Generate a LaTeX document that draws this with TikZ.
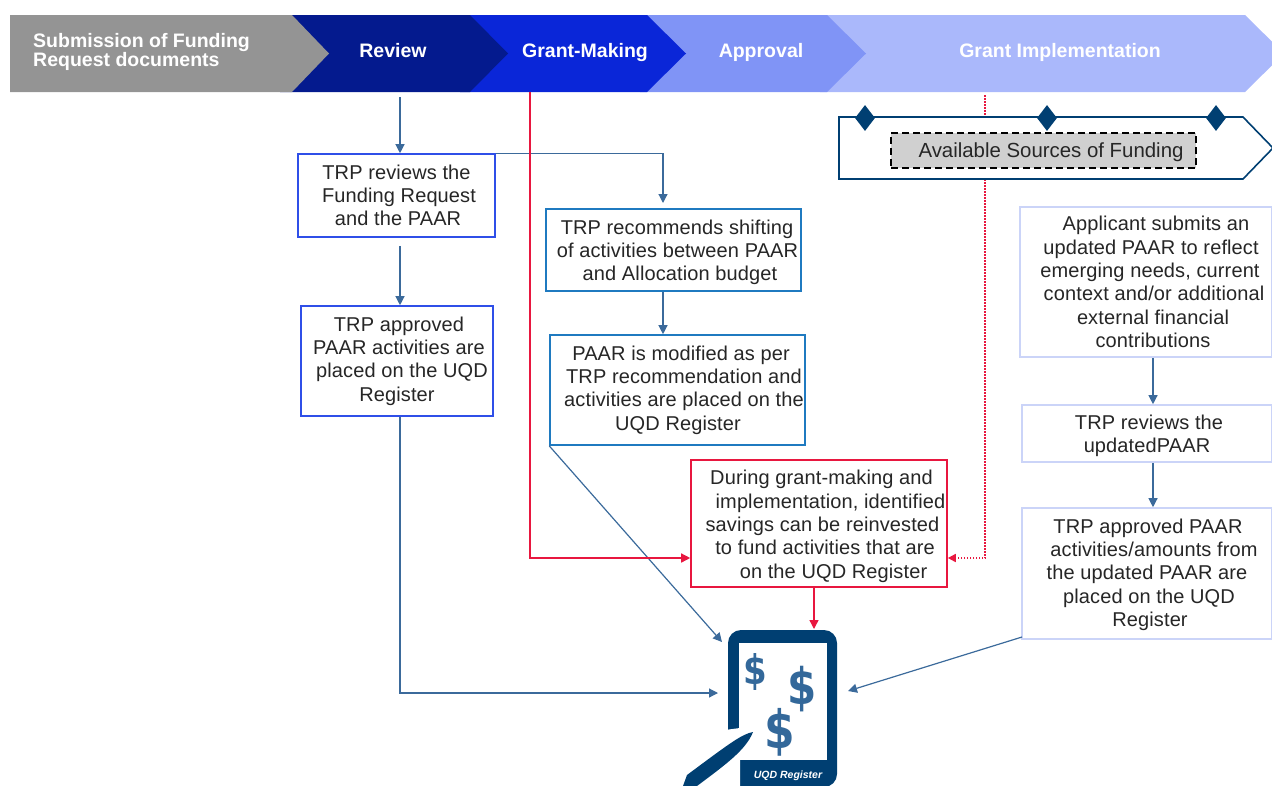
\documentclass[tikz,border=0pt]{standalone}
\usepackage{fontspec}
\setmainfont{Liberation Sans}
\newfontfamily\dollarfont{DejaVu Sans}
\newfontfamily\bodyfont[LetterSpace=0.6]{Liberation Sans}
\newcommand\lowr[1]{\rule{0pt}{\dimexpr15pt+#1pt\relax}}
\newcommand\sh[1]{\hspace*{#1pt}}
\usetikzlibrary{arrows.meta,shapes.geometric}
\definecolor{cgray}{HTML}{949494}
\definecolor{creview}{HTML}{041A8E}
\definecolor{cgrant}{HTML}{0A26D8}
\definecolor{capprov}{HTML}{8094F6}
\definecolor{cimpl}{HTML}{AAB8FB}
\definecolor{cnavy}{HTML}{003F72}
\definecolor{csteel}{HTML}{3B6A9B}
\definecolor{cdollar}{HTML}{33689A}
\definecolor{cblue}{HTML}{2F4FE8}
\definecolor{csky}{HTML}{1F7AC0}
\definecolor{cred}{HTML}{E8173F}
\definecolor{cpale}{HTML}{CBD4F8}
\definecolor{cdash}{HTML}{D0D0D0}
\tikzset{
 x=1pt,y=-1pt,
 headtext/.style={text=white,font=\bfseries\fontsize{19.5}{19}\selectfont,align=center,inner sep=0,anchor=base},
 flowbox/.style={draw,fill=white,line width=1.6pt,inner sep=0,align=center,font=\bodyfont\fontsize{20}{23.3}\selectfont,text=black!85},
 bluebox/.style={flowbox,draw=cblue},
 skybox/.style={flowbox,draw=csky},
 redbox/.style={flowbox,draw=cred},
 palebox/.style={flowbox,draw=cpale},
 link/.style={draw=csteel,line width=1.2pt,-{Triangle[length=9pt,width=9pt]}},
 redlink/.style={draw=cred,line width=1.4pt,-{Triangle[length=9pt,width=9pt]}},
 reddots/.style={draw=cred,line width=1.6pt,dash pattern=on 1.5pt off 1.5pt,-{Triangle[length=8pt,width=8pt]}},
 gem/.style={diamond,fill=cnavy,inner sep=0,minimum width=20pt,minimum height=26pt},
 dollar/.style={text=cdollar,inner sep=0},
}
\begin{document}
\begin{tikzpicture}
\useasboundingbox (0,0) rectangle (1272,785);
% header chevrons
\fill[cimpl] (820,15) -- (1245,15) -- (1284,53.5) -- (1245,92) -- (820,92) -- cycle;
\fill[capprov] (640,15) -- (827,15) -- (866,53.5) -- (827,92) -- (640,92) -- cycle;
\fill[cgrant] (460,15) -- (647,15) -- (686,53.5) -- (647,92) -- (460,92) -- cycle;
\fill[creview] (280,15) -- (470,15) -- (508,53.5) -- (470,92) -- (280,92) -- cycle;
\fill[cgray] (10,15) -- (292,15) -- (329,53.5) -- (292,92) -- (10,92) -- cycle;
\node[headtext,anchor=west,align=left] (hsub) at (33,52) {Submission of Funding\\Request documents};
\node[headtext] (hrev) at (393,57) {Review};
\node[headtext] (hgm) at (585,57) {Grant-Making};
\node[headtext] (happ) at (761,57) {Approval};
\node[headtext] (himp) at (1060,57) {Grant Implementation};
\coordinate (revout) at (400,97);
\coordinate (gmout) at (530,92);
\coordinate (impout) at (985,95);
% red connectors beneath boxes
\node[redbox,minimum width=256pt,minimum height=127pt] (save) at (819,523.5) {\lowr{5}\sh{5}During grant-making and\\\sh{23}implementation, identified\\\sh{7}savings can be reinvested\\\sh{12}to fund activities that are\\\sh{29}on the UQD Register};
\draw[reddots] (impout) |- (save.east |- 0,558);
% sources of funding arrow
\filldraw[fill=white,draw=cnavy,line width=1.6pt] (839,117) -- (1243,117) -- (1273,148) -- (1243,179) -- (839,179) -- cycle;
\node[draw=black,fill=cdash,dash pattern=on 7pt off 4pt,line width=1.6pt,minimum width=305pt,minimum height=35pt,inner sep=0,font=\fontsize{20.4}{20}\selectfont,text=black!85] (src) at (1043.5,150.5) {\lowr{4}\hspace{15pt}Available Sources of Funding};
\node[gem] (g1) at (865,118) {};
\node[gem] (g2) at (1047,118) {};
\node[gem] (g3) at (1216,118) {};
% boxes
\node[bluebox,minimum width=197pt,minimum height=83pt] (trp) at (396.5,195.5) {TRP reviews the\\\sh{5}Funding Request\\\sh{3}and the PAAR};
\node[bluebox,minimum width=192pt,minimum height=110pt] (appr) at (397,361) {\sh{4}TRP approved\\\sh{4}PAAR activities are\\\sh{10}placed on the UQD\\Register};
\node[skybox,minimum width=255pt,minimum height=82pt] (rec) at (673.5,250) {\lowr{4}\sh{7}TRP recommends shifting\\\sh{8}of activities between PAAR\\\sh{13}and Allocation budget};
\node[skybox,minimum width=255pt,minimum height=110pt] (mod) at (677.5,390) {\sh{7}PAAR is modified as per\\\sh{13}TRP recommendation and\\\sh{13}activities are placed on the\\\sh{1}UQD Register};
\node[palebox,minimum width=252pt,minimum height=150pt] (upd) at (1146,282) {\sh{20}Applicant submits an\\\sh{10}updated PAAR to reflect\\\sh{8}emerging needs, current\\\sh{16}context and/or additional\\\sh{14}external financial\\\sh{14}contributions};
\node[palebox,minimum width=250pt,minimum height=57pt] (rev2) at (1147,433.5) {\lowr{4}\sh{4}TRP reviews the\\updatedPAAR};
\node[palebox,minimum width=250pt,minimum height=131pt] (app2) at (1147,573.5) {\lowr{2}\sh{2}TRP approved PAAR\\\sh{14}activities/amounts from\\the updated PAAR are\\\sh{4}placed on the UQD\\\sh{6}Register};
% tablet
\fill[cnavy,rounded corners=13pt] (728,630) rectangle (837,787);
\fill[white] (739,643) rectangle (827,760);
\fill[white] (725,730) -- (740,728) -- (740,800) -- (725,800) -- cycle;
\coordinate (tabtop) at (814,629);
\coordinate (tabnw) at (722,642);
\coordinate (tabw) at (718,693);
\coordinate (tabe) at (848,691);
\fill[cnavy] (753,732) .. controls (742,734) and (730,743) .. (687,775) -- (683,786) -- (697,786) .. controls (725,765) and (746,750) .. (753,732) -- cycle;
\node[dollar,font=\dollarfont\bfseries\fontsize{34}{34}\selectfont] (d1) at (755,672) {\scalebox{1}[1.2]{\$}};
\node[dollar,font=\dollarfont\bfseries\fontsize{42}{42}\selectfont] (d2) at (802,689) {\scalebox{1}[1.2]{\$}};
\node[dollar,font=\dollarfont\bfseries\fontsize{44}{44}\selectfont] (d3) at (780,732) {\scalebox{1}[1.2]{\$}};
\node[text=white,inner sep=0,font=\bfseries\itshape\fontsize{10.5}{12}\selectfont] (uqd) at (788,776) {UQD Register};
% connectors
\draw[link] (revout) -- (revout |- trp.north);
\draw[link] ([xshift=3.5pt]trp.south) ++(0,8) -- ([xshift=3pt]appr.north);
\draw[link] (trp.north east) -| (663,203);
\draw[link] ([xshift=-10.5pt]rec.south) -- ([xshift=-14.5pt]mod.north);
\draw[link] (mod.south west) -- (tabnw);
\draw[link] (appr.south -| 400,0) -- (400,693) -- (tabw);
\draw[redlink] (gmout) |- (save.west |- 0,558);
\draw[redlink] ([xshift=-5pt]save.south) -- (tabtop);
\draw[link] ([xshift=7pt]upd.south) -- ([xshift=6pt]rev2.north);
\draw[link] ([xshift=6pt]rev2.south) -- ([xshift=6pt]app2.north);
\draw[link] (1022,637) -- (tabe);
\end{tikzpicture}
\end{document}
